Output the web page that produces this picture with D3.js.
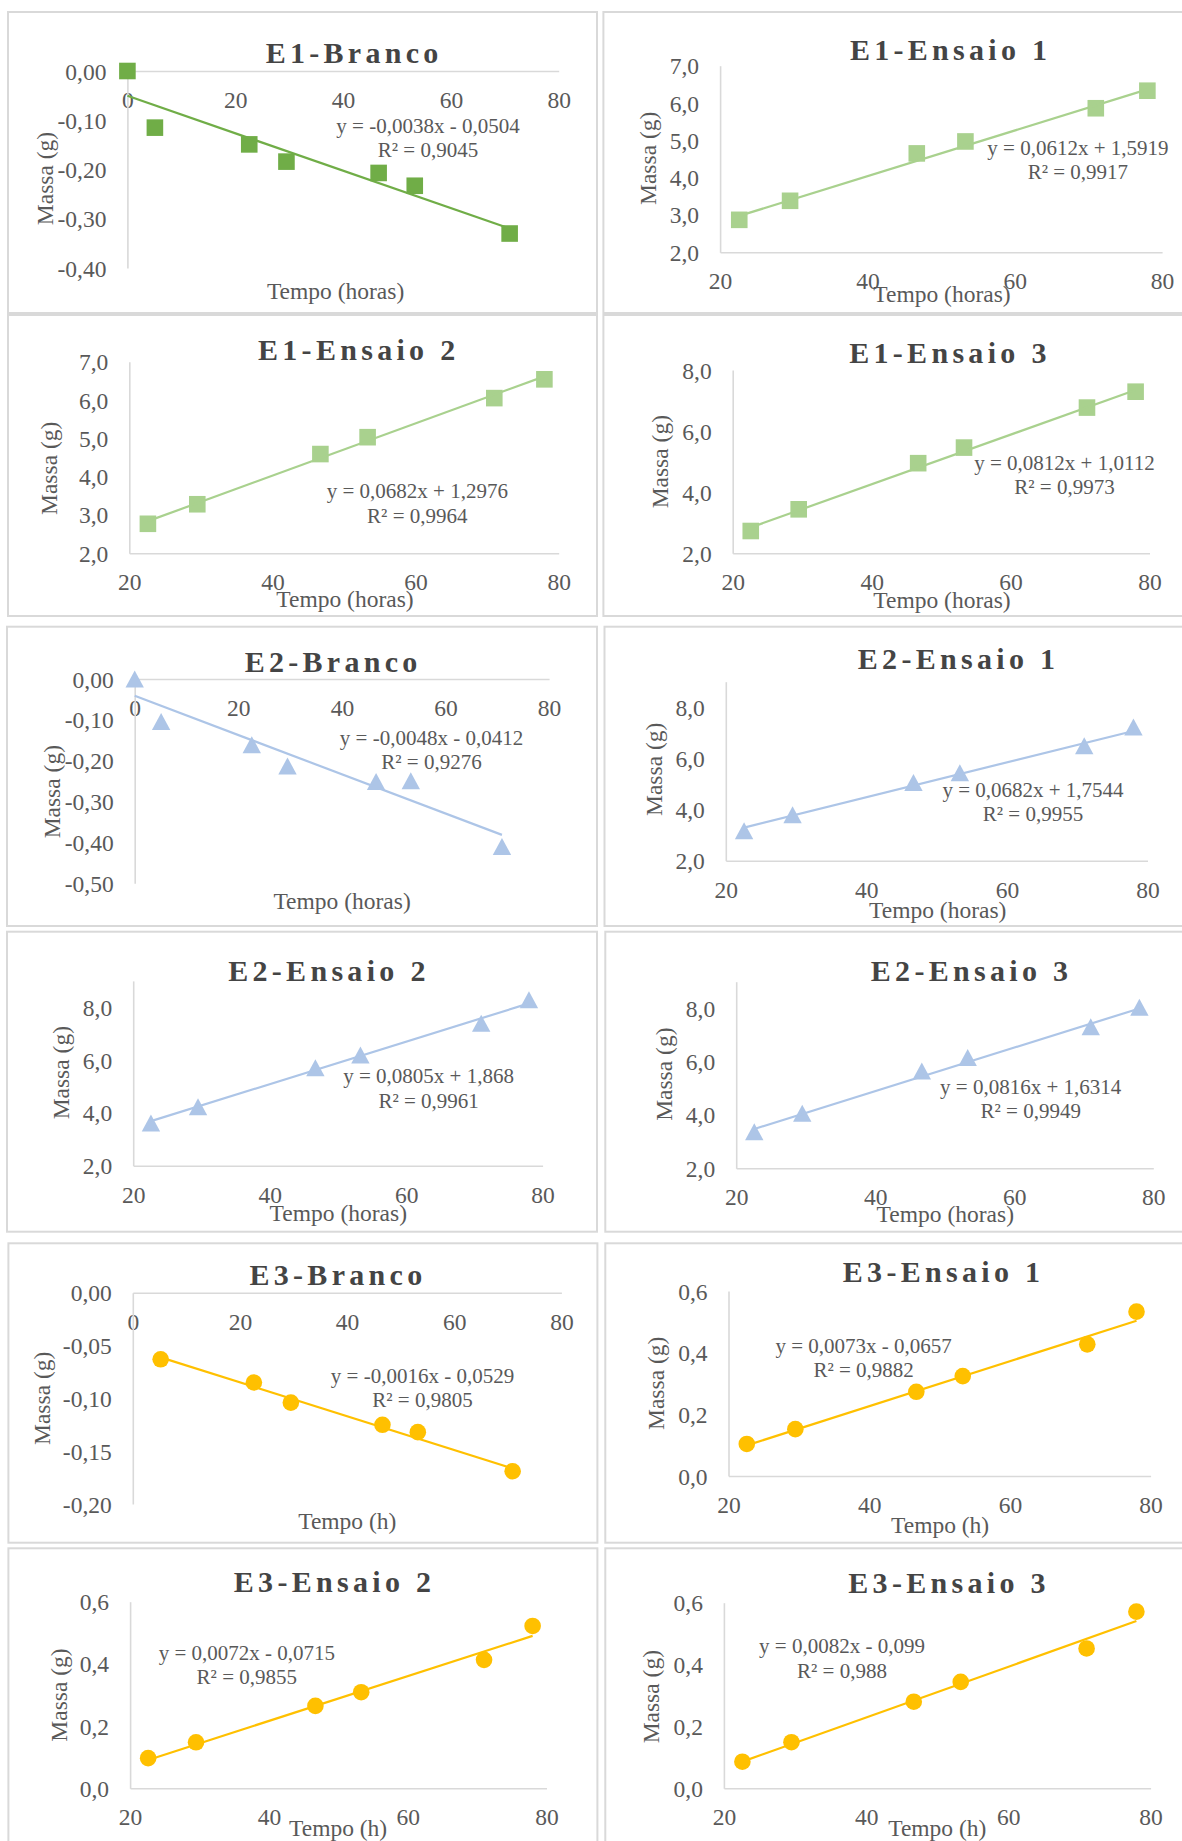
<!DOCTYPE html>
<html lang="pt">
<head>
<meta charset="utf-8">
<title>Variação de massa ao longo do tempo</title>
<script src="https://cdn.jsdelivr.net/npm/d3@7"></script>
<style>
  html, body { margin: 0; padding: 0; background: #fff; }
  svg { display: block; }
  text { font-family: "Liberation Serif", "Times New Roman", serif; fill: #595959; }
</style>
</head>
<body>
<svg id="grafico" width="1182" height="1841"></svg>
<script>
// Tempos de pesagem (h)
const tempoBranco   = [0, 5.1, 22.6, 29.5, 46.6, 53.3, 70.9];
const tempoBrancoE3 = [5.2, 22.6, 29.5, 46.6, 53.2, 70.9];
const tempoEnsaio   = [22.6, 29.5, 46.7, 53.3, 71.0, 78.0];

// Variação de massa (g)
const massaE1Branco  = [0.000, -0.115, -0.149, -0.184, -0.207, -0.233, -0.330];
const massaE1Ensaio1 = [2.87, 3.38, 4.65, 4.97, 5.86, 6.33];
const massaE1Ensaio2 = [2.77, 3.28, 4.59, 5.03, 6.05, 6.54];
const massaE1Ensaio3 = [2.73, 3.44, 4.95, 5.46, 6.77, 7.29];
const massaE2Branco  = [0.000, -0.104, -0.161, -0.213, -0.251, -0.249, -0.410];
const massaE2Ensaio1 = [3.17, 3.79, 5.05, 5.44, 6.49, 7.22];
const massaE2Ensaio2 = [3.61, 4.23, 5.71, 6.19, 7.39, 8.28];
const massaE2Ensaio3 = [3.37, 4.06, 5.65, 6.15, 7.31, 8.04];
const massaE3Branco  = [-0.063, -0.085, -0.104, -0.125, -0.132, -0.169];
const massaE3Ensaio1 = [0.104, 0.152, 0.273, 0.324, 0.427, 0.533];
const massaE3Ensaio2 = [0.097, 0.148, 0.265, 0.309, 0.413, 0.522];
const massaE3Ensaio3 = [0.086, 0.149, 0.280, 0.344, 0.452, 0.571];

const titulos = ["E1-Branco", "E1-Ensaio 1", "E1-Ensaio 2", "E1-Ensaio 3",
                 "E2-Branco", "E2-Ensaio 1", "E2-Ensaio 2", "E2-Ensaio 3",
                 "E3-Branco", "E3-Ensaio 1", "E3-Ensaio 2", "E3-Ensaio 3"];

// Linhas de tendência lineares: y = a·x + b
const inclinacoes = [-0.0038, 0.0612, 0.0682, 0.0812, -0.0048, 0.0682, 0.0805, 0.0816, -0.0016, 0.0073, 0.0072, 0.0082];
const interceptos = [-0.0504, 1.5919, 1.2976, 1.0112, -0.0412, 1.7544, 1.868, 1.6314, -0.0529, -0.0657, -0.0715, -0.099];
const coefR2      = [0.9045, 0.9917, 0.9964, 0.9973, 0.9276, 0.9955, 0.9961, 0.9949, 0.9805, 0.9882, 0.9855, 0.988];

// Marcas dos eixos
const ticksXBranco = [0, 20, 40, 60, 80];
const ticksXEnsaio = [20, 40, 60, 80];
const ticksYE1Branco = [0, -0.1, -0.2, -0.3, -0.4];
const ticksYE2Branco = [0, -0.1, -0.2, -0.3, -0.4, -0.5];
const ticksYE3Branco = [0, -0.05, -0.1, -0.15, -0.2];
const ticksYE1Ensaio = [2, 3, 4, 5, 6, 7];
const ticksYPasso2   = [2, 4, 6, 8];
const ticksYE3Ensaio = [0, 0.2, 0.4, 0.6];

const rotuloHoras = "Tempo (horas)";
const rotuloH = "Tempo (h)";
const rotuloMassa = "Massa (g)";

// Tabela dos gráficos
const graficos = [
  { x: tempoBranco,   y: massaE1Branco,  yDom: [-0.4, 0], yTicks: ticksYE1Branco, xTicks: ticksXBranco, xDom: [0, 80], dec: 2, xLab: rotuloHoras, marca: "quadrado", cor: "#70AD47" },
  { x: tempoEnsaio,   y: massaE1Ensaio1, yDom: [2, 7],    yTicks: ticksYE1Ensaio, xTicks: ticksXEnsaio, xDom: [20, 80], dec: 1, xLab: rotuloHoras, marca: "quadrado", cor: "#A9D18E" },
  { x: tempoEnsaio,   y: massaE1Ensaio2, yDom: [2, 7],    yTicks: ticksYE1Ensaio, xTicks: ticksXEnsaio, xDom: [20, 80], dec: 1, xLab: rotuloHoras, marca: "quadrado", cor: "#A9D18E" },
  { x: tempoEnsaio,   y: massaE1Ensaio3, yDom: [2, 8],    yTicks: ticksYPasso2,   xTicks: ticksXEnsaio, xDom: [20, 80], dec: 1, xLab: rotuloHoras, marca: "quadrado", cor: "#A9D18E" },
  { x: tempoBranco,   y: massaE2Branco,  yDom: [-0.5, 0], yTicks: ticksYE2Branco, xTicks: ticksXBranco, xDom: [0, 80], dec: 2, xLab: rotuloHoras, marca: "triangulo", cor: "#ADC5E7" },
  { x: tempoEnsaio,   y: massaE2Ensaio1, yDom: [2, 9],    yTicks: ticksYPasso2,   xTicks: ticksXEnsaio, xDom: [20, 80], dec: 1, xLab: rotuloHoras, marca: "triangulo", cor: "#ADC5E7" },
  { x: tempoEnsaio,   y: massaE2Ensaio2, yDom: [2, 9],    yTicks: ticksYPasso2,   xTicks: ticksXEnsaio, xDom: [20, 80], dec: 1, xLab: rotuloHoras, marca: "triangulo", cor: "#ADC5E7" },
  { x: tempoEnsaio,   y: massaE2Ensaio3, yDom: [2, 9],    yTicks: ticksYPasso2,   xTicks: ticksXEnsaio, xDom: [20, 80], dec: 1, xLab: rotuloHoras, marca: "triangulo", cor: "#ADC5E7" },
  { x: tempoBrancoE3, y: massaE3Branco,  yDom: [-0.2, 0], yTicks: ticksYE3Branco, xTicks: ticksXBranco, xDom: [0, 80], dec: 2, xLab: rotuloH, marca: "circulo", cor: "#FFC000" },
  { x: tempoEnsaio,   y: massaE3Ensaio1, yDom: [0, 0.6],  yTicks: ticksYE3Ensaio, xTicks: ticksXEnsaio, xDom: [20, 80], dec: 1, xLab: rotuloH, marca: "circulo", cor: "#FFC000" },
  { x: tempoEnsaio,   y: massaE3Ensaio2, yDom: [0, 0.6],  yTicks: ticksYE3Ensaio, xTicks: ticksXEnsaio, xDom: [20, 80], dec: 1, xLab: rotuloH, marca: "circulo", cor: "#FFC000" },
  { x: tempoEnsaio,   y: massaE3Ensaio3, yDom: [0, 0.6],  yTicks: ticksYE3Ensaio, xTicks: ticksXEnsaio, xDom: [20, 80], dec: 1, xLab: rotuloH, marca: "circulo", cor: "#FFC000" }
];

// Geometria de cada quadro: moldura, faixas dos eixos e posições dos textos
const layout = [
  { box: [8, 12, 589, 301],        xr: [127.4, 558.7], yr: [268, 71],       tt: [352, 63],       yt: [46, 178.5],   xt: [335.6, 299],  eq: [428, 133] },
  { box: [603.4, 12, 600, 301],    xr: [720.1, 1162.1], yr: [252.3, 65.7],  tt: [948.5, 60],     yt: [649.9, 158.3], xt: [942, 301.7],  eq: [1077.9, 155] },
  { box: [8, 315, 589, 301],       xr: [129.3, 558.7], yr: [553.3, 361.7],  tt: [356.6, 360],    yt: [50.9, 468.3], xt: [345, 606.7],  eq: [417.3, 498.3] },
  { box: [603.4, 315, 600, 301],   xr: [732.7, 1149.5], yr: [553.3, 370],   tt: [947.8, 362.7],  yt: [661.8, 461.7], xt: [942, 607.5],  eq: [1064.5, 470] },
  { box: [7, 626.7, 590, 299.3],   xr: [134.7, 549.1], yr: [883.3, 679],    tt: [331, 671.7],    yt: [53.6, 791.7], xt: [342.1, 909],  eq: [431.5, 745] },
  { box: [604.5, 626.7, 600, 299.3], xr: [725.8, 1147.5], yr: [860.7, 681.7], tt: [956.4, 669.3], yt: [655, 769.3],  xt: [937.7, 917.5], eq: [1033, 796.7] },
  { box: [7, 931.7, 590, 300],     xr: [133.2, 542.6], yr: [1165.7, 980.9], tt: [326.8, 980.7],  yt: [62.2, 1072.7], xt: [338.3, 1221], eq: [428.6, 1083.3] },
  { box: [605.3, 931.7, 600, 300], xr: [736.2, 1153.3], yr: [1168.3, 981.7], tt: [969.4, 980.7], yt: [665.2, 1074.2], xt: [945.3, 1222], eq: [1030.7, 1094] },
  { box: [8.4, 1243.3, 589, 299.4], xr: [132.8, 561.4], yr: [1504, 1292.7], tt: [335.8, 1285],   yt: [43, 1398.3],  xt: [347.3, 1529], eq: [422.5, 1382.7] },
  { box: [605.3, 1243.3, 600, 299.4], xr: [728.5, 1150.6], yr: [1476, 1291], tt: [941.4, 1281.7], yt: [657.5, 1383.3], xt: [940.1, 1532.5], eq: [863.6, 1352.7] },
  { box: [8.4, 1548.3, 589, 320],  xr: [130.1, 546.5], yr: [1788.3, 1601.7], tt: [332.4, 1591.7], yt: [60.3, 1695],  xt: [338.1, 1836], eq: [246.8, 1660] },
  { box: [605.3, 1548.3, 600, 320], xr: [723.9, 1150.6], yr: [1788.3, 1602.7], tt: [946.9, 1593.3], yt: [652.2, 1696.7], xt: [937.3, 1836], eq: [842, 1653.3] }
];

const ptBR = d3.formatLocale({ decimal: ",", thousands: ".", grouping: [3], currency: ["R$", ""], minus: "-" });
const fmtCoef = ptBR.format(".4~f");

const corEixo = "#D9D9D9";
const fonteTick = 23.5;
const fonteEq = 21;
const fonteTitulo = 30;
const espacoTitulo = 4.3;

const svg = d3.select("#grafico");

// Formas dos marcadores, centradas na origem
const formas = {
  quadrado: "M-8.3,-8.3H8.3V8.3H-8.3Z",
  triangulo: "M0,-8.6L9.2,8.4H-9.2Z"
};

graficos.forEach((g, i) => {
  const L = layout[i];
  const painel = svg.append("g").attr("class", "painel");

  // Moldura do quadro
  painel.append("rect")
    .attr("x", L.box[0]).attr("y", L.box[1])
    .attr("width", L.box[2]).attr("height", L.box[3])
    .attr("fill", "#fff").attr("stroke", corEixo).attr("stroke-width", 2);

  const x = d3.scaleLinear().domain(g.xDom).range(L.xr);
  const y = d3.scaleLinear().domain(g.yDom).range(L.yr);
  const fmtY = ptBR.format("." + g.dec + "f");

  // Eixo X: cruza o eixo Y em y = 0 (brancos) ou no mínimo (ensaios)
  const yCruz = g.yDom[1] === 0 ? 0 : g.yDom[0];
  const eixoX = painel.append("g")
    .attr("transform", `translate(0,${y(yCruz)})`)
    .call(d3.axisBottom(x).tickValues(g.xTicks).tickSize(0).tickSizeOuter(0).tickFormat(d3.format("d")));
  eixoX.selectAll("text").attr("y", 29).attr("dy", "0.34em");

  // Eixo Y: na origem do tempo (brancos) ou no mínimo (ensaios)
  const eixoY = painel.append("g")
    .attr("transform", `translate(${x(g.xDom[0])},0)`)
    .call(d3.axisLeft(y).tickValues(g.yTicks).tickSize(0).tickSizeOuter(0).tickPadding(21).tickFormat(fmtY));
  eixoY.selectAll("text").attr("dy", "0.34em");

  [eixoX, eixoY].forEach(ax => {
    ax.select(".domain").attr("stroke", corEixo).attr("stroke-width", 1.6);
    ax.selectAll("text")
      .attr("font-size", fonteTick).attr("fill", "#595959");
  });

  // Marcadores
  const pontos = g.x.map((t, k) => ({ t, m: g.y[k] }));
  const mk = painel.append("g");
  if (g.marca === "circulo") {
    mk.selectAll("circle").data(pontos).join("circle")
      .attr("cx", d => x(d.t)).attr("cy", d => y(d.m)).attr("r", 8.3)
      .attr("fill", g.cor);
  } else {
    mk.selectAll("path").data(pontos).join("path")
      .attr("d", formas[g.marca])
      .attr("transform", d => `translate(${x(d.t)},${y(d.m)})`)
      .attr("fill", g.cor);
  }

  // Linha de tendência linear no intervalo dos dados
  const a = inclinacoes[i], b = interceptos[i];
  const [t0, t1] = d3.extent(g.x);
  painel.append("path")
    .datum([t0, t1])
    .attr("d", d3.line().x(t => x(t)).y(t => y(a * t + b)))
    .attr("stroke", g.cor).attr("stroke-width", 2.2).attr("fill", "none");

  // Equação e R²
  const eqTxt = "y = " + fmtCoef(a) + "x " + (b < 0 ? "- " : "+ ") + fmtCoef(Math.abs(b));
  const r2Txt = "R² = " + fmtCoef(coefR2[i]);
  const eq = painel.append("text")
    .attr("x", L.eq[0]).attr("y", L.eq[1])
    .attr("text-anchor", "middle").attr("font-size", fonteEq);
  eq.append("tspan").attr("x", L.eq[0]).text(eqTxt);
  eq.append("tspan").attr("x", L.eq[0]).attr("dy", 24.4).text(r2Txt);

  // Título
  painel.append("text")
    .attr("x", L.tt[0] + espacoTitulo / 2).attr("y", L.tt[1])
    .attr("text-anchor", "middle")
    .attr("font-size", fonteTitulo).attr("font-weight", "bold")
    .attr("letter-spacing", espacoTitulo)
    .style("fill", "#444444")
    .text(titulos[i]);

  // Títulos dos eixos
  painel.append("text")
    .attr("transform", `translate(${L.yt[0]},${L.yt[1]}) rotate(-90)`)
    .attr("text-anchor", "middle").attr("dy", "0.28em")
    .attr("font-size", fonteTick)
    .text(rotuloMassa);
  painel.append("text")
    .attr("x", L.xt[0]).attr("y", L.xt[1])
    .attr("text-anchor", "middle")
    .attr("font-size", fonteTick)
    .text(g.xLab);
});
</script>
</body>
</html>
